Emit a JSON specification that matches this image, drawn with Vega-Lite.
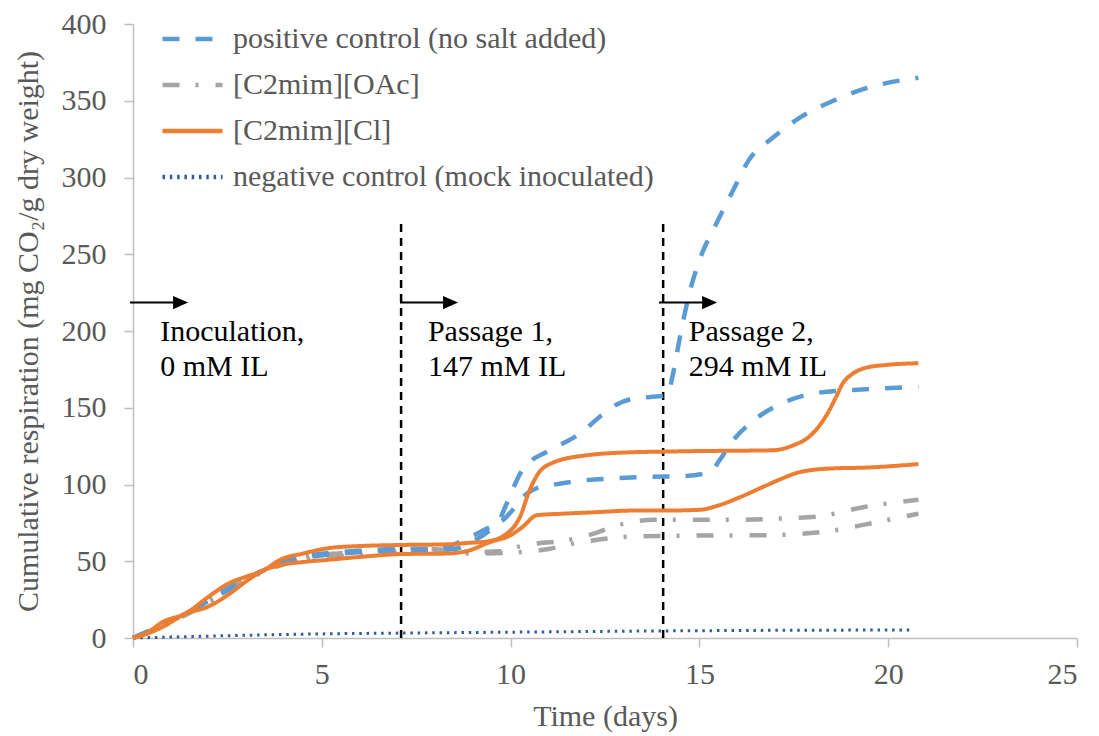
{
  "$schema": "https://vega.github.io/schema/vega-lite/v6.json",
  "width": 944,
  "height": 614,
  "autosize": {"type": "none"},
  "padding": {"left": 133, "top": 24, "right": 22, "bottom": 98},
  "background": "white",
  "config": {
    "view": {"stroke": null},
    "font": "Liberation Serif",
    "axis": {
      "grid": false,
      "domainColor": "#BFBFBF",
      "domainWidth": 1.5,
      "tickColor": "#BFBFBF",
      "tickWidth": 1.5,
      "tickSize": 9,
      "labelFont": "Liberation Serif",
      "labelFontSize": 30,
      "labelColor": "#595959",
      "titleFont": "Liberation Serif",
      "titleFontSize": 30,
      "titleFontWeight": "normal",
      "titleColor": "#595959"
    }
  },
  "datasets": {
    "curves": [
      {"k": "neg", "s": "negative control (mock inoculated)", "r": "a", "x": 0, "y": 0},
      {"k": "neg", "s": "negative control (mock inoculated)", "r": "a", "x": 1, "y": 0.6},
      {"k": "neg", "s": "negative control (mock inoculated)", "r": "a", "x": 2.5, "y": 1.5},
      {"k": "neg", "s": "negative control (mock inoculated)", "r": "a", "x": 4, "y": 2.3},
      {"k": "neg", "s": "negative control (mock inoculated)", "r": "a", "x": 5.75, "y": 2.9},
      {"k": "neg", "s": "negative control (mock inoculated)", "r": "a", "x": 7.1, "y": 3.2},
      {"k": "neg", "s": "negative control (mock inoculated)", "r": "a", "x": 10, "y": 3.8},
      {"k": "neg", "s": "negative control (mock inoculated)", "r": "a", "x": 14, "y": 4.6},
      {"k": "neg", "s": "negative control (mock inoculated)", "r": "a", "x": 17, "y": 5},
      {"k": "neg", "s": "negative control (mock inoculated)", "r": "a", "x": 20.65, "y": 5.2},

      {"k": "oac", "s": "[C2mim][OAc]", "r": "a", "x": 0, "y": 0},
      {"k": "oac", "s": "[C2mim][OAc]", "r": "a", "x": 1.4, "y": 16},
      {"k": "oac", "s": "[C2mim][OAc]", "r": "a", "x": 2.57, "y": 33},
      {"k": "oac", "s": "[C2mim][OAc]", "r": "a", "x": 3.45, "y": 44},
      {"k": "oac", "s": "[C2mim][OAc]", "r": "a", "x": 4.5, "y": 53},
      {"k": "oac", "s": "[C2mim][OAc]", "r": "a", "x": 6.1, "y": 56},
      {"k": "oac", "s": "[C2mim][OAc]", "r": "a", "x": 7.7, "y": 58},
      {"k": "oac", "s": "[C2mim][OAc]", "r": "a", "x": 8.5, "y": 57},
      {"k": "oac", "s": "[C2mim][OAc]", "r": "a", "x": 9.0, "y": 56},
      {"k": "oac", "s": "[C2mim][OAc]", "r": "a", "x": 9.7, "y": 56.5},
      {"k": "oac", "s": "[C2mim][OAc]", "r": "a", "x": 10.3, "y": 60},
      {"k": "oac", "s": "[C2mim][OAc]", "r": "a", "x": 10.85, "y": 62},
      {"k": "oac", "s": "[C2mim][OAc]", "r": "a", "x": 11.3, "y": 63},
      {"k": "oac", "s": "[C2mim][OAc]", "r": "a", "x": 11.75, "y": 65},
      {"k": "oac", "s": "[C2mim][OAc]", "r": "a", "x": 12.2, "y": 68},
      {"k": "oac", "s": "[C2mim][OAc]", "r": "a", "x": 12.6, "y": 71.5},
      {"k": "oac", "s": "[C2mim][OAc]", "r": "a", "x": 13.1, "y": 75},
      {"k": "oac", "s": "[C2mim][OAc]", "r": "a", "x": 13.8, "y": 77},
      {"k": "oac", "s": "[C2mim][OAc]", "r": "a", "x": 15.9, "y": 77},
      {"k": "oac", "s": "[C2mim][OAc]", "r": "a", "x": 17.3, "y": 78},
      {"k": "oac", "s": "[C2mim][OAc]", "r": "a", "x": 18.1, "y": 79},
      {"k": "oac", "s": "[C2mim][OAc]", "r": "a", "x": 19.4, "y": 85.5},
      {"k": "oac", "s": "[C2mim][OAc]", "r": "a", "x": 20.8, "y": 90},

      {"k": "oac", "s": "[C2mim][OAc]", "r": "b", "x": 0, "y": 0},
      {"k": "oac", "s": "[C2mim][OAc]", "r": "b", "x": 1.4, "y": 15},
      {"k": "oac", "s": "[C2mim][OAc]", "r": "b", "x": 2.57, "y": 31},
      {"k": "oac", "s": "[C2mim][OAc]", "r": "b", "x": 3.45, "y": 43},
      {"k": "oac", "s": "[C2mim][OAc]", "r": "b", "x": 4.5, "y": 51},
      {"k": "oac", "s": "[C2mim][OAc]", "r": "b", "x": 6.1, "y": 54},
      {"k": "oac", "s": "[C2mim][OAc]", "r": "b", "x": 7.7, "y": 56},
      {"k": "oac", "s": "[C2mim][OAc]", "r": "b", "x": 8.5, "y": 55.5},
      {"k": "oac", "s": "[C2mim][OAc]", "r": "b", "x": 9.0, "y": 55},
      {"k": "oac", "s": "[C2mim][OAc]", "r": "b", "x": 10.3, "y": 56},
      {"k": "oac", "s": "[C2mim][OAc]", "r": "b", "x": 11.0, "y": 58},
      {"k": "oac", "s": "[C2mim][OAc]", "r": "b", "x": 11.75, "y": 62},
      {"k": "oac", "s": "[C2mim][OAc]", "r": "b", "x": 12.3, "y": 64},
      {"k": "oac", "s": "[C2mim][OAc]", "r": "b", "x": 13.1, "y": 66},
      {"k": "oac", "s": "[C2mim][OAc]", "r": "b", "x": 14.04, "y": 66.5},
      {"k": "oac", "s": "[C2mim][OAc]", "r": "b", "x": 16.8, "y": 67},
      {"k": "oac", "s": "[C2mim][OAc]", "r": "b", "x": 18.55, "y": 70},
      {"k": "oac", "s": "[C2mim][OAc]", "r": "b", "x": 19.4, "y": 74},
      {"k": "oac", "s": "[C2mim][OAc]", "r": "b", "x": 20.8, "y": 81},

      {"k": "pos", "s": "positive control (no salt added)", "r": "a", "x": 0, "y": 0},
      {"k": "pos", "s": "positive control (no salt added)", "r": "a", "x": 1.4, "y": 16},
      {"k": "pos", "s": "positive control (no salt added)", "r": "a", "x": 2.57, "y": 33},
      {"k": "pos", "s": "positive control (no salt added)", "r": "a", "x": 3.45, "y": 44},
      {"k": "pos", "s": "positive control (no salt added)", "r": "a", "x": 4.5, "y": 53},
      {"k": "pos", "s": "positive control (no salt added)", "r": "a", "x": 6.1, "y": 57},
      {"k": "pos", "s": "positive control (no salt added)", "r": "a", "x": 7.1, "y": 58},
      {"k": "pos", "s": "positive control (no salt added)", "r": "a", "x": 8.0, "y": 58},
      {"k": "pos", "s": "positive control (no salt added)", "r": "a", "x": 8.5, "y": 61},
      {"k": "pos", "s": "positive control (no salt added)", "r": "a", "x": 8.9, "y": 65.5},
      {"k": "pos", "s": "positive control (no salt added)", "r": "a", "x": 9.27, "y": 70},
      {"k": "pos", "s": "positive control (no salt added)", "r": "a", "x": 9.7, "y": 77},
      {"k": "pos", "s": "positive control (no salt added)", "r": "a", "x": 9.85, "y": 85},
      {"k": "pos", "s": "positive control (no salt added)", "r": "a", "x": 10.04, "y": 96},
      {"k": "pos", "s": "positive control (no salt added)", "r": "a", "x": 10.25, "y": 107},
      {"k": "pos", "s": "positive control (no salt added)", "r": "a", "x": 10.57, "y": 116},
      {"k": "pos", "s": "positive control (no salt added)", "r": "a", "x": 10.9, "y": 120.5},
      {"k": "pos", "s": "positive control (no salt added)", "r": "a", "x": 11.3, "y": 125.7},
      {"k": "pos", "s": "positive control (no salt added)", "r": "a", "x": 11.7, "y": 131},
      {"k": "pos", "s": "positive control (no salt added)", "r": "a", "x": 12.05, "y": 137.5},
      {"k": "pos", "s": "positive control (no salt added)", "r": "a", "x": 12.4, "y": 145},
      {"k": "pos", "s": "positive control (no salt added)", "r": "a", "x": 12.8, "y": 152},
      {"k": "pos", "s": "positive control (no salt added)", "r": "a", "x": 13.25, "y": 156},
      {"k": "pos", "s": "positive control (no salt added)", "r": "a", "x": 13.7, "y": 157},
      {"k": "pos", "s": "positive control (no salt added)", "r": "a", "x": 14.15, "y": 158},
      {"k": "pos", "s": "positive control (no salt added)", "r": "a", "x": 14.3, "y": 172},
      {"k": "pos", "s": "positive control (no salt added)", "r": "a", "x": 14.5, "y": 198},
      {"k": "pos", "s": "positive control (no salt added)", "r": "a", "x": 14.75, "y": 226},
      {"k": "pos", "s": "positive control (no salt added)", "r": "a", "x": 15.0, "y": 246},
      {"k": "pos", "s": "positive control (no salt added)", "r": "a", "x": 15.45, "y": 270},
      {"k": "pos", "s": "positive control (no salt added)", "r": "a", "x": 15.9, "y": 292},
      {"k": "pos", "s": "positive control (no salt added)", "r": "a", "x": 16.3, "y": 311},
      {"k": "pos", "s": "positive control (no salt added)", "r": "a", "x": 16.95, "y": 326},
      {"k": "pos", "s": "positive control (no salt added)", "r": "a", "x": 17.66, "y": 339},
      {"k": "pos", "s": "positive control (no salt added)", "r": "a", "x": 18.55, "y": 350},
      {"k": "pos", "s": "positive control (no salt added)", "r": "a", "x": 19.4, "y": 358},
      {"k": "pos", "s": "positive control (no salt added)", "r": "a", "x": 20.8, "y": 365},

      {"k": "pos", "s": "positive control (no salt added)", "r": "b", "x": 0, "y": 0},
      {"k": "pos", "s": "positive control (no salt added)", "r": "b", "x": 1.4, "y": 16},
      {"k": "pos", "s": "positive control (no salt added)", "r": "b", "x": 2.57, "y": 32},
      {"k": "pos", "s": "positive control (no salt added)", "r": "b", "x": 3.45, "y": 44},
      {"k": "pos", "s": "positive control (no salt added)", "r": "b", "x": 4.5, "y": 52},
      {"k": "pos", "s": "positive control (no salt added)", "r": "b", "x": 6.1, "y": 56},
      {"k": "pos", "s": "positive control (no salt added)", "r": "b", "x": 7.1, "y": 57},
      {"k": "pos", "s": "positive control (no salt added)", "r": "b", "x": 8.5, "y": 58},
      {"k": "pos", "s": "positive control (no salt added)", "r": "b", "x": 9.0, "y": 63},
      {"k": "pos", "s": "positive control (no salt added)", "r": "b", "x": 9.5, "y": 71},
      {"k": "pos", "s": "positive control (no salt added)", "r": "b", "x": 10.04, "y": 83},
      {"k": "pos", "s": "positive control (no salt added)", "r": "b", "x": 10.25, "y": 90},
      {"k": "pos", "s": "positive control (no salt added)", "r": "b", "x": 10.7, "y": 97.7},
      {"k": "pos", "s": "positive control (no salt added)", "r": "b", "x": 11.1, "y": 99.7},
      {"k": "pos", "s": "positive control (no salt added)", "r": "b", "x": 11.8, "y": 102.3},
      {"k": "pos", "s": "positive control (no salt added)", "r": "b", "x": 12.7, "y": 104},
      {"k": "pos", "s": "positive control (no salt added)", "r": "b", "x": 13.6, "y": 105},
      {"k": "pos", "s": "positive control (no salt added)", "r": "b", "x": 14.57, "y": 105.5},
      {"k": "pos", "s": "positive control (no salt added)", "r": "b", "x": 15.28, "y": 108},
      {"k": "pos", "s": "positive control (no salt added)", "r": "b", "x": 15.54, "y": 116},
      {"k": "pos", "s": "positive control (no salt added)", "r": "b", "x": 15.9, "y": 129},
      {"k": "pos", "s": "positive control (no salt added)", "r": "b", "x": 16.4, "y": 141},
      {"k": "pos", "s": "positive control (no salt added)", "r": "b", "x": 17.2, "y": 153},
      {"k": "pos", "s": "positive control (no salt added)", "r": "b", "x": 18.1, "y": 159.6},
      {"k": "pos", "s": "positive control (no salt added)", "r": "b", "x": 19.4, "y": 162},
      {"k": "pos", "s": "positive control (no salt added)", "r": "b", "x": 20.8, "y": 163.5},

      {"k": "cl", "s": "[C2mim][Cl]", "r": "a", "x": 0, "y": 0},
      {"k": "cl", "s": "[C2mim][Cl]", "r": "a", "x": 0.4, "y": 4},
      {"k": "cl", "s": "[C2mim][Cl]", "r": "a", "x": 0.8, "y": 10.6},
      {"k": "cl", "s": "[C2mim][Cl]", "r": "a", "x": 1.4, "y": 16},
      {"k": "cl", "s": "[C2mim][Cl]", "r": "a", "x": 1.95, "y": 26},
      {"k": "cl", "s": "[C2mim][Cl]", "r": "a", "x": 2.57, "y": 36},
      {"k": "cl", "s": "[C2mim][Cl]", "r": "a", "x": 3.0, "y": 40},
      {"k": "cl", "s": "[C2mim][Cl]", "r": "a", "x": 3.45, "y": 44},
      {"k": "cl", "s": "[C2mim][Cl]", "r": "a", "x": 3.9, "y": 51},
      {"k": "cl", "s": "[C2mim][Cl]", "r": "a", "x": 4.5, "y": 55},
      {"k": "cl", "s": "[C2mim][Cl]", "r": "a", "x": 5.2, "y": 58.6},
      {"k": "cl", "s": "[C2mim][Cl]", "r": "a", "x": 6.1, "y": 60},
      {"k": "cl", "s": "[C2mim][Cl]", "r": "a", "x": 7.1, "y": 60.6},
      {"k": "cl", "s": "[C2mim][Cl]", "r": "a", "x": 8.3, "y": 61},
      {"k": "cl", "s": "[C2mim][Cl]", "r": "a", "x": 8.9, "y": 62},
      {"k": "cl", "s": "[C2mim][Cl]", "r": "a", "x": 9.4, "y": 63},
      {"k": "cl", "s": "[C2mim][Cl]", "r": "a", "x": 9.9, "y": 68},
      {"k": "cl", "s": "[C2mim][Cl]", "r": "a", "x": 10.25, "y": 79},
      {"k": "cl", "s": "[C2mim][Cl]", "r": "a", "x": 10.5, "y": 96},
      {"k": "cl", "s": "[C2mim][Cl]", "r": "a", "x": 10.7, "y": 106},
      {"k": "cl", "s": "[C2mim][Cl]", "r": "a", "x": 11.1, "y": 114},
      {"k": "cl", "s": "[C2mim][Cl]", "r": "a", "x": 12.0, "y": 119},
      {"k": "cl", "s": "[C2mim][Cl]", "r": "a", "x": 13.2, "y": 121},
      {"k": "cl", "s": "[C2mim][Cl]", "r": "a", "x": 14.04, "y": 121.4},
      {"k": "cl", "s": "[C2mim][Cl]", "r": "a", "x": 15.0, "y": 121.8},
      {"k": "cl", "s": "[C2mim][Cl]", "r": "a", "x": 16.0, "y": 122},
      {"k": "cl", "s": "[C2mim][Cl]", "r": "a", "x": 16.95, "y": 122.3},
      {"k": "cl", "s": "[C2mim][Cl]", "r": "a", "x": 17.5, "y": 125.7},
      {"k": "cl", "s": "[C2mim][Cl]", "r": "a", "x": 17.9, "y": 131},
      {"k": "cl", "s": "[C2mim][Cl]", "r": "a", "x": 18.2, "y": 139},
      {"k": "cl", "s": "[C2mim][Cl]", "r": "a", "x": 18.4, "y": 146.6},
      {"k": "cl", "s": "[C2mim][Cl]", "r": "a", "x": 18.6, "y": 156},
      {"k": "cl", "s": "[C2mim][Cl]", "r": "a", "x": 18.8, "y": 166},
      {"k": "cl", "s": "[C2mim][Cl]", "r": "a", "x": 19.05, "y": 172},
      {"k": "cl", "s": "[C2mim][Cl]", "r": "a", "x": 19.4, "y": 176},
      {"k": "cl", "s": "[C2mim][Cl]", "r": "a", "x": 20.0, "y": 178},
      {"k": "cl", "s": "[C2mim][Cl]", "r": "a", "x": 20.8, "y": 179},

      {"k": "cl", "s": "[C2mim][Cl]", "r": "b", "x": 0, "y": 0},
      {"k": "cl", "s": "[C2mim][Cl]", "r": "b", "x": 0.4, "y": 3},
      {"k": "cl", "s": "[C2mim][Cl]", "r": "b", "x": 0.8, "y": 7.4},
      {"k": "cl", "s": "[C2mim][Cl]", "r": "b", "x": 1.4, "y": 16},
      {"k": "cl", "s": "[C2mim][Cl]", "r": "b", "x": 1.95, "y": 20},
      {"k": "cl", "s": "[C2mim][Cl]", "r": "b", "x": 2.57, "y": 29},
      {"k": "cl", "s": "[C2mim][Cl]", "r": "b", "x": 3.0, "y": 37},
      {"k": "cl", "s": "[C2mim][Cl]", "r": "b", "x": 3.45, "y": 44},
      {"k": "cl", "s": "[C2mim][Cl]", "r": "b", "x": 3.9, "y": 47.5},
      {"k": "cl", "s": "[C2mim][Cl]", "r": "b", "x": 4.5, "y": 49.5},
      {"k": "cl", "s": "[C2mim][Cl]", "r": "b", "x": 5.2, "y": 51},
      {"k": "cl", "s": "[C2mim][Cl]", "r": "b", "x": 6.1, "y": 53},
      {"k": "cl", "s": "[C2mim][Cl]", "r": "b", "x": 7.1, "y": 54.7},
      {"k": "cl", "s": "[C2mim][Cl]", "r": "b", "x": 8.3, "y": 55},
      {"k": "cl", "s": "[C2mim][Cl]", "r": "b", "x": 8.9, "y": 57},
      {"k": "cl", "s": "[C2mim][Cl]", "r": "b", "x": 9.4, "y": 62},
      {"k": "cl", "s": "[C2mim][Cl]", "r": "b", "x": 10.0, "y": 67},
      {"k": "cl", "s": "[C2mim][Cl]", "r": "b", "x": 10.3, "y": 72},
      {"k": "cl", "s": "[C2mim][Cl]", "r": "b", "x": 10.7, "y": 80},
      {"k": "cl", "s": "[C2mim][Cl]", "r": "b", "x": 11.4, "y": 81},
      {"k": "cl", "s": "[C2mim][Cl]", "r": "b", "x": 12.3, "y": 82},
      {"k": "cl", "s": "[C2mim][Cl]", "r": "b", "x": 13.2, "y": 83},
      {"k": "cl", "s": "[C2mim][Cl]", "r": "b", "x": 14.04, "y": 83},
      {"k": "cl", "s": "[C2mim][Cl]", "r": "b", "x": 15.0, "y": 83.5},
      {"k": "cl", "s": "[C2mim][Cl]", "r": "b", "x": 15.46, "y": 86},
      {"k": "cl", "s": "[C2mim][Cl]", "r": "b", "x": 16.1, "y": 92},
      {"k": "cl", "s": "[C2mim][Cl]", "r": "b", "x": 16.7, "y": 98.6},
      {"k": "cl", "s": "[C2mim][Cl]", "r": "b", "x": 17.2, "y": 104},
      {"k": "cl", "s": "[C2mim][Cl]", "r": "b", "x": 17.6, "y": 107.7},
      {"k": "cl", "s": "[C2mim][Cl]", "r": "b", "x": 18.0, "y": 109.5},
      {"k": "cl", "s": "[C2mim][Cl]", "r": "b", "x": 18.55, "y": 110.5},
      {"k": "cl", "s": "[C2mim][Cl]", "r": "b", "x": 19.4, "y": 111},
      {"k": "cl", "s": "[C2mim][Cl]", "r": "b", "x": 20.8, "y": 113.3}
    ],
    "passages": [
      {"x": 7.1, "y0": 0, "y1": 272},
      {"x": 14.04, "y0": 0, "y1": 272}
    ],
    "arrows": [
      {"x0": -0.08, "x1": 1.2, "head": 1.26, "y": 218.5},
      {"x0": 7.07, "x1": 8.35, "head": 8.41, "y": 218.5},
      {"x0": 13.93, "x1": 15.2, "head": 15.27, "y": 218.5}
    ],
    "notes": [
      {"x": 0.72, "y": 193.5, "label": "Inoculation,\n0 mM IL"},
      {"x": 7.81, "y": 193.5, "label": "Passage 1,\n147 mM IL"},
      {"x": 14.72, "y": 193.5, "label": "Passage 2,\n294 mM IL"}
    ]
  },
  "layer": [
    {
      "data": {"name": "passages"},
      "mark": {"type": "rule", "color": "black", "strokeWidth": 2.5, "strokeDash": [8, 6]},
      "encoding": {
        "x": {"field": "x", "type": "quantitative"},
        "y": {"field": "y0", "type": "quantitative"},
        "y2": {"field": "y1"}
      }
    },
    {
      "data": {"name": "curves"},
      "transform": [{"filter": "datum.k == 'neg'"}],
      "mark": {"type": "line", "strokeWidth": 3, "interpolate": "monotone"},
      "encoding": {
        "x": {"field": "x", "type": "quantitative"},
        "y": {"field": "y", "type": "quantitative"},
        "color": {"field": "s", "type": "nominal"},
        "strokeDash": {"field": "s", "type": "nominal"},
        "detail": {"field": "r"}
      }
    },
    {
      "data": {"name": "curves"},
      "transform": [{"filter": "datum.k == 'oac'"}],
      "mark": {"type": "line", "strokeWidth": 4.5, "interpolate": "monotone"},
      "encoding": {
        "x": {"field": "x", "type": "quantitative"},
        "y": {"field": "y", "type": "quantitative"},
        "color": {"field": "s", "type": "nominal"},
        "strokeDash": {"field": "s", "type": "nominal"},
        "detail": {"field": "r"}
      }
    },
    {
      "data": {"name": "curves"},
      "transform": [{"filter": "datum.k == 'pos'"}],
      "mark": {"type": "line", "strokeWidth": 4.5, "interpolate": "monotone"},
      "encoding": {
        "x": {"field": "x", "type": "quantitative"},
        "y": {"field": "y", "type": "quantitative"},
        "color": {"field": "s", "type": "nominal"},
        "strokeDash": {"field": "s", "type": "nominal"},
        "detail": {"field": "r"}
      }
    },
    {
      "data": {"name": "curves"},
      "transform": [{"filter": "datum.k == 'cl'"}],
      "mark": {"type": "line", "strokeWidth": 4, "interpolate": "monotone"},
      "encoding": {
        "x": {
          "field": "x", "type": "quantitative",
          "scale": {"domain": [0, 25], "nice": false, "zero": false},
          "axis": {"values": [0, 5, 10, 15, 20, 25], "title": "Time (days)", "labelPadding": 12, "titlePadding": 12}
        },
        "y": {
          "field": "y", "type": "quantitative",
          "scale": {"domain": [0, 400], "nice": false},
          "axis": {"values": [0, 50, 100, 150, 200, 250, 300, 350, 400], "title": "Cumulative respiration (mg CO₂/g dry weight)", "labelPadding": 18, "titlePadding": 18}
        },
        "color": {
          "field": "s", "type": "nominal",
          "scale": {
            "domain": ["positive control (no salt added)", "[C2mim][OAc]", "[C2mim][Cl]", "negative control (mock inoculated)"],
            "range": ["#5B9BD5", "#A5A5A5", "#ED7D31", "#2E5E9C"]
          },
          "legend": {
            "title": null,
            "orient": "none",
            "legendX": 27,
            "legendY": 0,
            "padding": 0,
            "symbolType": "stroke",
            "symbolSize": 3600,
            "symbolStrokeWidth": 4.5,
            "labelFont": "Liberation Serif",
            "labelFontSize": 30,
            "labelColor": "#595959",
            "labelOffset": 8,
            "labelLimit": 600,
            "rowPadding": 16,
            "clipHeight": 30
          }
        },
        "strokeDash": {
          "field": "s", "type": "nominal",
          "scale": {
            "domain": ["positive control (no salt added)", "[C2mim][OAc]", "[C2mim][Cl]", "negative control (mock inoculated)"],
            "range": [[17, 16], [17, 16, 3, 17], [1, 0], [2.5, 4.8]]
          },
          "legend": {
            "title": null,
            "orient": "none",
            "legendX": 27,
            "legendY": 0,
            "padding": 0,
            "symbolType": "stroke",
            "symbolSize": 3600,
            "symbolStrokeWidth": 4.5,
            "labelFont": "Liberation Serif",
            "labelFontSize": 30,
            "labelColor": "#595959",
            "labelOffset": 8,
            "labelLimit": 600,
            "rowPadding": 16,
            "clipHeight": 30
          }
        },
        "detail": {"field": "r"}
      }
    },
    {
      "data": {"name": "arrows"},
      "mark": {"type": "rule", "color": "black", "strokeWidth": 2},
      "encoding": {
        "x": {"field": "x0", "type": "quantitative"},
        "x2": {"field": "x1"},
        "y": {"field": "y", "type": "quantitative"}
      }
    },
    {
      "data": {"name": "arrows"},
      "mark": {"type": "point", "shape": "M-1,-0.87L1,0L-1,0.87Z", "filled": true, "color": "black", "opacity": 1, "size": 225, "strokeWidth": 0},
      "encoding": {
        "x": {"field": "head", "type": "quantitative"},
        "y": {"field": "y", "type": "quantitative"}
      }
    },
    {
      "data": {"name": "notes"},
      "mark": {"type": "text", "align": "left", "baseline": "alphabetic", "font": "Liberation Serif", "fontSize": 30, "color": "black", "lineBreak": "\n", "lineHeight": 35},
      "encoding": {
        "x": {"field": "x", "type": "quantitative"},
        "y": {"field": "y", "type": "quantitative"},
        "text": {"field": "label"}
      }
    }
  ]
}
